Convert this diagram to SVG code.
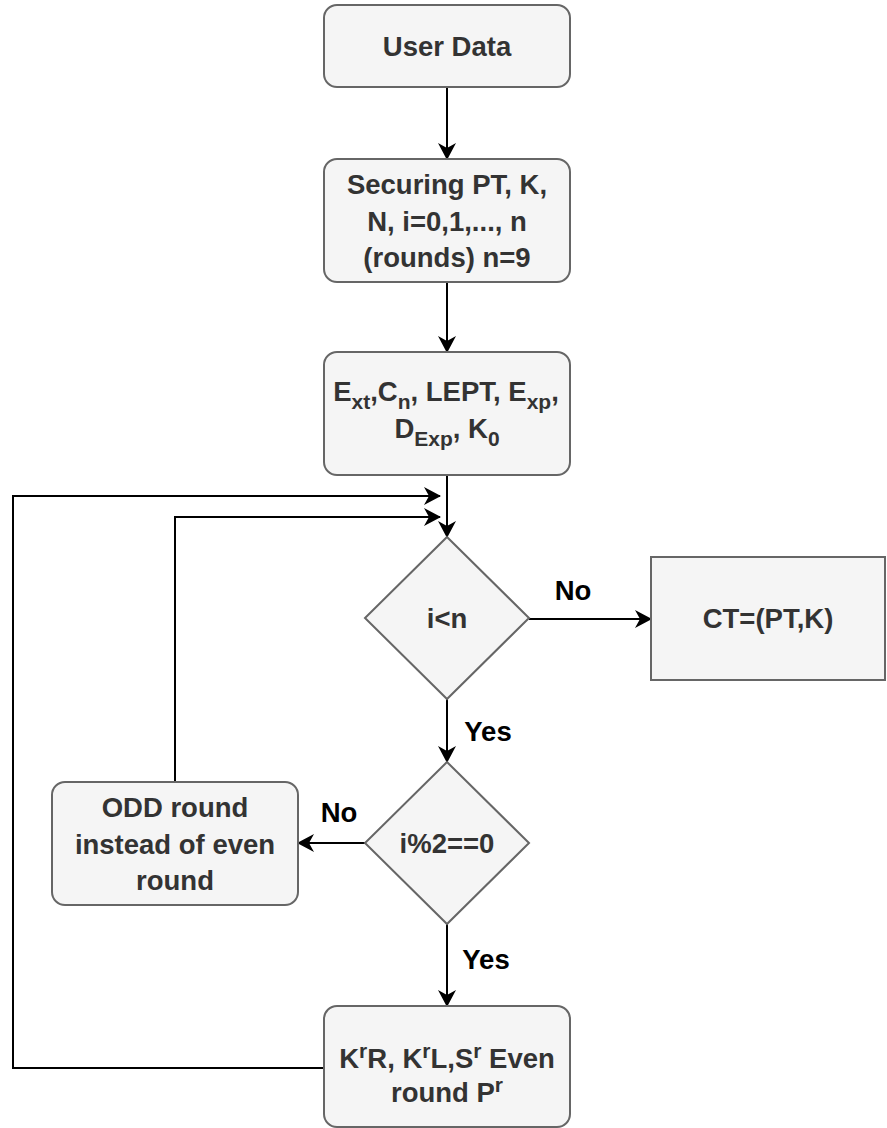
<svg xmlns="http://www.w3.org/2000/svg" width="887" height="1128" viewBox="0 0 887 1128">
<defs>
<style>
.box{fill:#f5f5f5;stroke:#666;stroke-width:2}
.t{font-family:"Liberation Sans",Arial,sans-serif;font-weight:bold;font-size:27.5px;fill:#333;text-anchor:middle}
.lbl{font-family:"Liberation Sans",Arial,sans-serif;font-weight:bold;font-size:27.5px;fill:#000;text-anchor:middle}
.sub{font-size:21px}
.edge{fill:none;stroke:#000;stroke-width:2}
</style>
<marker id="arr" markerUnits="userSpaceOnUse" markerWidth="17" markerHeight="18" refX="16" refY="9" orient="auto" viewBox="0 0 17 18">
<path d="M0,0 L17,9 L0,18 L5,9 Z" fill="#000"/>
</marker>
</defs>
<rect width="887" height="1128" fill="#fff"/>

<g id="connectors">
<path class="edge" d="M447,87 L447,159" marker-end="url(#arr)"/>
<path class="edge" d="M447,282 L447,352" marker-end="url(#arr)"/>
<path class="edge" d="M447,475 L447,537" marker-end="url(#arr)"/>
<path class="edge" d="M529,619 L651,619" marker-end="url(#arr)"/>
<path class="edge" d="M447,699 L447,762" marker-end="url(#arr)"/>
<path class="edge" d="M365,843 L298,843" marker-end="url(#arr)"/>
<path class="edge" d="M447,924 L447,1006" marker-end="url(#arr)"/>
<path class="edge" d="M324,1068 L13,1068 L13,496 L440,496" marker-end="url(#arr)"/>
<path class="edge" d="M175,782 L175,517 L440,517" marker-end="url(#arr)"/>
<text class="lbl" x="573" y="600">No</text>
<text class="lbl" x="488" y="741">Yes</text>
<text class="lbl" x="339" y="822">No</text>
<text class="lbl" x="486" y="969">Yes</text>
</g>

<g id="user-data">
<rect class="box" x="324" y="5" width="246" height="82" rx="13"/>
<text class="t" x="447" y="56">User Data</text>
</g>

<g id="securing">
<rect class="box" x="324" y="159" width="246" height="123" rx="13"/>
<text class="t" x="447" y="194">Securing PT, K,</text>
<text class="t" x="447" y="230.5">N, i=0,1,..., n</text>
<text class="t" x="447" y="267">(rounds) n=9</text>
</g>

<g id="ext">
<rect class="box" x="324" y="352" width="246" height="123" rx="13"/>
<text class="t" x="446" y="401">E<tspan class="sub" dy="8">xt</tspan><tspan dy="-8">,C</tspan><tspan class="sub" dy="8">n</tspan><tspan dy="-8">, LEPT, E</tspan><tspan class="sub" dy="8">xp</tspan><tspan dy="-8">,</tspan></text>
<text class="t" x="447" y="438">D<tspan class="sub" dy="8">Exp</tspan><tspan dy="-8">, K</tspan><tspan class="sub" dy="8">0</tspan></text>
</g>

<g id="cond1">
<polygon class="box" points="447,537 529,618 447,699 365,618"/>
<text class="t" x="447" y="628">i&lt;n</text>
</g>

<g id="ct">
<rect class="box" x="651" y="557" width="234" height="123"/>
<text class="t" x="768" y="628">CT=(PT,K)</text>
</g>

<g id="cond2">
<polygon class="box" points="447,762 529,843 447,924 365,843"/>
<text class="t" x="447" y="853">i%2==0</text>
</g>

<g id="odd">
<rect class="box" x="52" y="782" width="246" height="123" rx="13"/>
<text class="t" x="175" y="817">ODD round</text>
<text class="t" x="175" y="853.5">instead of even</text>
<text class="t" x="175" y="890">round</text>
</g>

<g id="even">
<rect class="box" x="324" y="1006" width="246" height="121" rx="13"/>
<text class="t" x="447" y="1068">K<tspan class="sub" dy="-10">r</tspan><tspan dy="10">R, K</tspan><tspan class="sub" dy="-10">r</tspan><tspan dy="10">L,S</tspan><tspan class="sub" dy="-10">r</tspan><tspan dy="10"> Even</tspan></text>
<text class="t" x="447" y="1102">round P<tspan class="sub" dy="-10">r</tspan></text>
</g>
</svg>
